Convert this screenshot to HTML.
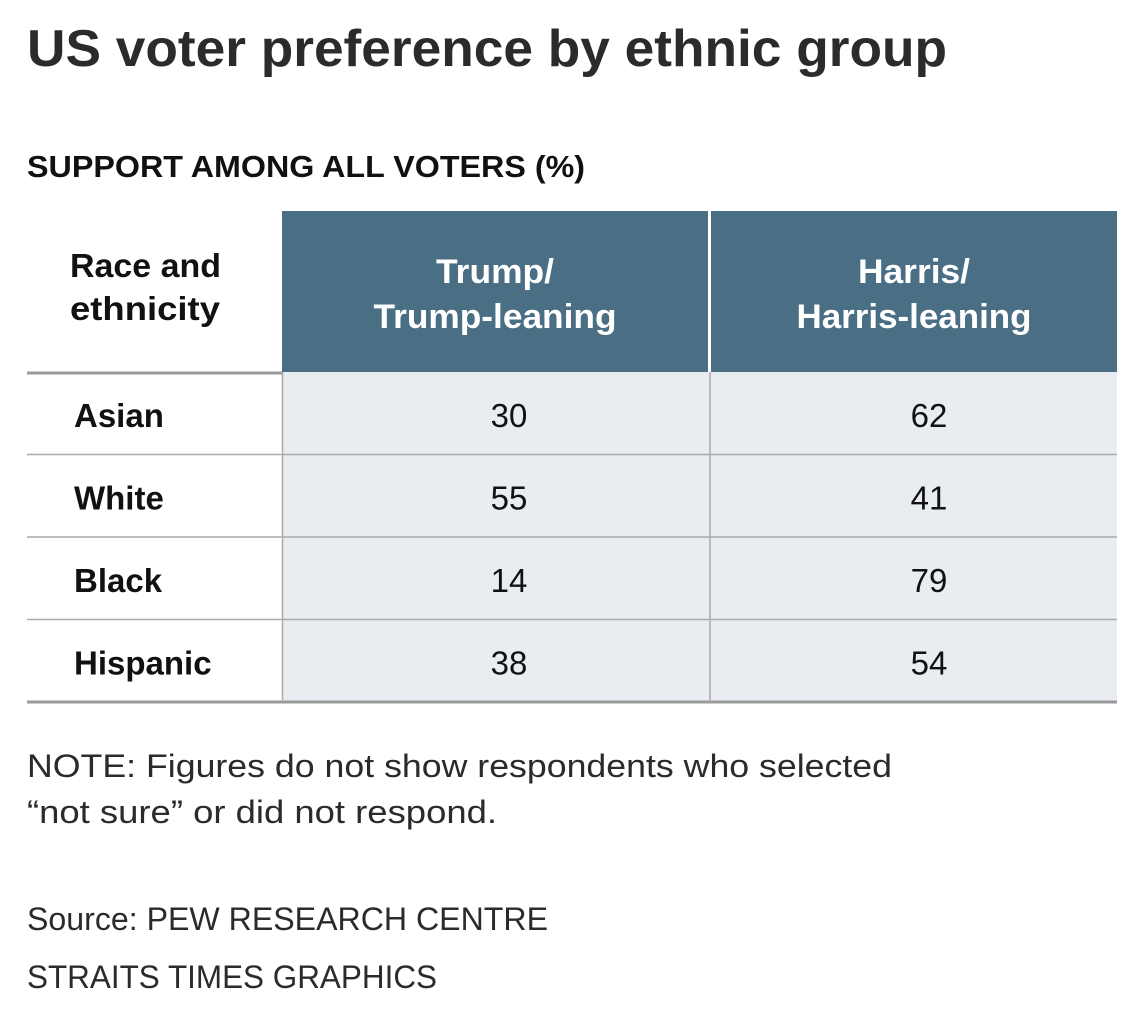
<!DOCTYPE html>
<html><head><meta charset="utf-8"><style>
html,body{margin:0;padding:0;background:#fff;}
svg{display:block;font-family:"Liberation Sans",sans-serif;}
</style></head><body>
<svg id="chart" width="1140" height="1021" viewBox="0 0 1140 1021" xmlns="http://www.w3.org/2000/svg">
<text x="27" y="66" font-size="52" font-weight="bold" fill="#2b2b2b" textLength="920" lengthAdjust="spacingAndGlyphs">US voter preference by ethnic group</text>
<text x="27" y="177" font-size="31" font-weight="bold" fill="#111" textLength="558" lengthAdjust="spacingAndGlyphs">SUPPORT AMONG ALL VOTERS (%)</text>
<rect x="282" y="372" width="835" height="330" fill="#e9edf1"/>
<rect x="282" y="211" width="426" height="161" fill="#4a6e84"/>
<rect x="711" y="211" width="406" height="161" fill="#4a6e84"/>
<text font-size="33" font-weight="bold" fill="#111"><tspan x="70" y="277" textLength="151" lengthAdjust="spacingAndGlyphs">Race and</tspan><tspan x="70" y="320" textLength="150" lengthAdjust="spacingAndGlyphs">ethnicity</tspan></text>
<text font-size="34" font-weight="bold" fill="#fff" text-anchor="middle"><tspan x="495" y="283" textLength="118" lengthAdjust="spacingAndGlyphs">Trump/</tspan><tspan x="495" y="328" textLength="243" lengthAdjust="spacingAndGlyphs">Trump-leaning</tspan></text>
<text font-size="34" font-weight="bold" fill="#fff" text-anchor="middle"><tspan x="914" y="283" textLength="112" lengthAdjust="spacingAndGlyphs">Harris/</tspan><tspan x="914" y="328" textLength="235" lengthAdjust="spacingAndGlyphs">Harris-leaning</tspan></text>
<g id="rows"></g>
<line x1="27" y1="373" x2="282" y2="373" stroke="#999" stroke-width="3"/>
<line x1="27" y1="702" x2="1117" y2="702" stroke="#999" stroke-width="3"/>
<line x1="282.5" y1="372" x2="282.5" y2="702" stroke="#aaa" stroke-width="1.5"/>
<line x1="710" y1="372" x2="710" y2="702" stroke="#aaa" stroke-width="1.5"/>
<text font-size="32" fill="#2b2b2b"><tspan x="27" y="777" textLength="865" lengthAdjust="spacingAndGlyphs">NOTE: Figures do not show respondents who selected</tspan><tspan x="27" y="823" textLength="470" lengthAdjust="spacingAndGlyphs">“not sure” or did not respond.</tspan></text>
<text x="27" y="930" font-size="32" fill="#2b2b2b" textLength="521" lengthAdjust="spacingAndGlyphs">Source: PEW RESEARCH CENTRE</text>
<text x="27" y="988" font-size="32" fill="#2b2b2b" textLength="410" lengthAdjust="spacingAndGlyphs">STRAITS TIMES GRAPHICS</text>
</svg>
<script>
const groups = ["Asian", "White", "Black", "Hispanic"];
const trumpValues = [30, 55, 14, 38];
const harrisValues = [62, 41, 79, 54];

const NS = "http://www.w3.org/2000/svg";
const g = document.getElementById("rows");
const top0 = 372, rowH = 82.5;
function rowY(i){ return top0 + i * rowH; }
function mk(tag, attrs){ const e = document.createElementNS(NS, tag); for (const k in attrs) e.setAttribute(k, attrs[k]); g.appendChild(e); return e; }
groups.forEach((name, i) => {
  const y0 = rowY(i);
  if (i > 0) {
    const ln = mk("line", {x1: 27, x2: 1117, y1: y0, y2: y0, stroke: "#aaa", "stroke-width": 1.5});
    
    
  }
  const base = y0 + 55;
  const lab = mk("text", {x: 74, y: base, "font-size": 33, "font-weight": "bold", fill: "#111"});
  lab.textContent = name;
  
  
  const t = mk("text", {x: 509, y: base, "font-size": 33, fill: "#111", "text-anchor": "middle"});
  t.textContent = trumpValues[i];
  
  
  const h = mk("text", {x: 929, y: base, "font-size": 33, fill: "#111", "text-anchor": "middle"});
  h.textContent = harrisValues[i];
  
  
});
</script>
</body></html>
